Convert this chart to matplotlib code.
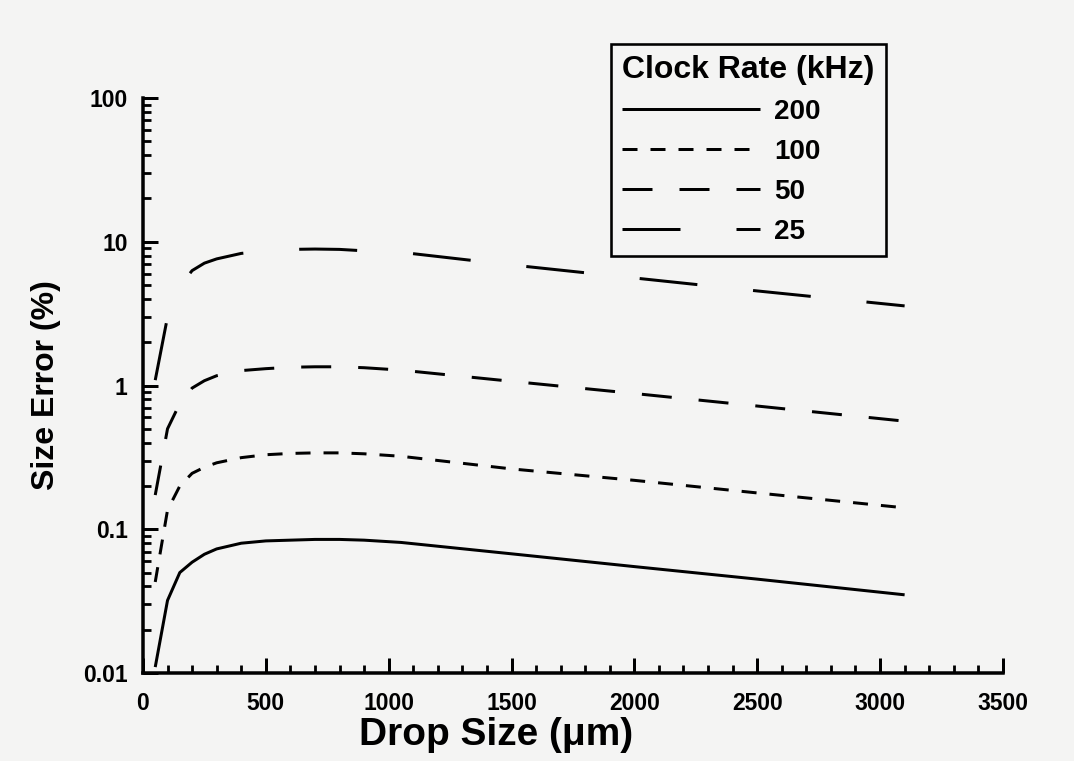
import numpy as np
import matplotlib
matplotlib.use("Agg")
import matplotlib.pyplot as plt
from matplotlib.ticker import FixedLocator, MultipleLocator, FuncFormatter, LogLocator

# ---------------------------------------------------------------------------
# Data: size error vs drop size for four clock rates
# ---------------------------------------------------------------------------
drop_size = [50, 100, 150, 200, 250, 300, 400, 500, 600, 700, 800, 900,
             1050, 1500, 2000, 2500, 3100]

err_200 = [0.011, 0.032, 0.050, 0.059, 0.067, 0.073, 0.080, 0.083, 0.084,
           0.085, 0.085, 0.084, 0.081, 0.0675, 0.055, 0.045, 0.035]
err_100 = [0.043, 0.136, 0.200, 0.245, 0.270, 0.290, 0.315, 0.330, 0.337,
           0.340, 0.340, 0.335, 0.322, 0.263, 0.219, 0.179, 0.141]
err_50 = [0.173, 0.50, 0.75, 0.96, 1.08, 1.17, 1.27, 1.31, 1.34,
          1.35, 1.35, 1.33, 1.28, 1.07, 0.88, 0.72, 0.565]
err_25 = [1.09, 3.0, 4.9, 6.3, 7.1, 7.6, 8.3, 8.65, 8.85,
          8.9, 8.85, 8.65, 8.45, 6.9, 5.6, 4.55, 3.58]

rates = ["200", "100", "50", "25"]
x_ticks = [0, 500, 1000, 1500, 2000, 2500, 3000, 3500]
y_ticks = [0.01, 0.1, 1, 10, 100]
y_tick_labels = ["0.01", "0.1", "1", "10", "100"]

# dash patterns in pixels (on, off); figure is drawn at 100 dpi
PX = 0.72
styles = {
    "200": "-",
    "100": (0, (15 * PX, 13 * PX)),
    "50": (0, (30 * PX, 27 * PX)),
    "25": (0, (58 * PX, 56 * PX)),
}

plt.rcParams["font.family"] = ["Liberation Sans", "DejaVu Sans"]
plt.rcParams["font.weight"] = "bold"
plt.rcParams["lines.scale_dashes"] = False

BG = "#f4f4f3"
fig = plt.figure(figsize=(10.74, 7.61), dpi=100, facecolor=BG)
ax = fig.add_axes([0.1331, 0.1156, 0.8007, 0.7556], facecolor=BG)

lw = 3.0 * PX
series = {"200": err_200, "100": err_100, "50": err_50, "25": err_25}
for r in rates:
    ax.plot(drop_size, series[r], color="black", lw=lw, ls=styles[r],
            solid_capstyle="butt", dash_capstyle="butt", label=r)

ax.set_yscale("log")
ax.set_xlim(0, 3500)
ax.set_ylim(0.01, 100)

ax.xaxis.set_major_locator(FixedLocator(x_ticks))
ax.xaxis.set_minor_locator(MultipleLocator(100))
ax.yaxis.set_major_locator(FixedLocator(y_ticks))
ax.yaxis.set_minor_locator(LogLocator(base=10, subs=np.arange(2, 10), numticks=20))
ax.yaxis.set_major_formatter(FuncFormatter(
    lambda v, p: y_tick_labels[y_ticks.index(v)] if v in y_ticks else ""))
ax.yaxis.set_minor_formatter(FuncFormatter(lambda v, p: ""))

for side in ("top", "right"):
    ax.spines[side].set_visible(False)
for side in ("left", "bottom"):
    ax.spines[side].set_linewidth(3.5 * PX)

ax.tick_params(which="major", direction="in", length=15 * PX, width=3 * PX,
               labelsize=16.5)
ax.tick_params(which="minor", direction="in", length=8 * PX, width=2.8 * PX)
ax.tick_params(axis="x", which="major", pad=14)
ax.tick_params(axis="y", which="major", pad=11)
for lab in ax.get_xticklabels() + ax.get_yticklabels():
    lab.set_fontweight("bold")

ax.set_xlabel("Drop Size (\u03bcm)", fontsize=28, fontweight="bold")
ax.set_ylabel("Size Error (%)", fontsize=23, fontweight="bold")
ax.xaxis.set_label_coords((496 - 143) / 860, (673 - 717) / 575)
ax.yaxis.set_label_coords((61 - 143) / 860, 0.5)

leg = ax.legend(title="Clock Rate (kHz)", loc="upper left",
                bbox_to_anchor=(611 / 1074, 1 - 44 / 761),
                bbox_transform=fig.transFigure, borderaxespad=0,
                fontsize=20, title_fontsize=23, handlelength=138 / 27.8,
                handletextpad=0.5, labelspacing=0.5, borderpad=0.4,
                fancybox=False, framealpha=1, facecolor=BG,
                edgecolor="black", alignment="left")
leg.get_frame().set_linewidth(2.6 * PX)
leg.get_title().set_fontweight("bold")
for t in leg.get_texts():
    t.set_fontweight("bold")

fig.savefig("out.png", dpi=100, facecolor=BG)
